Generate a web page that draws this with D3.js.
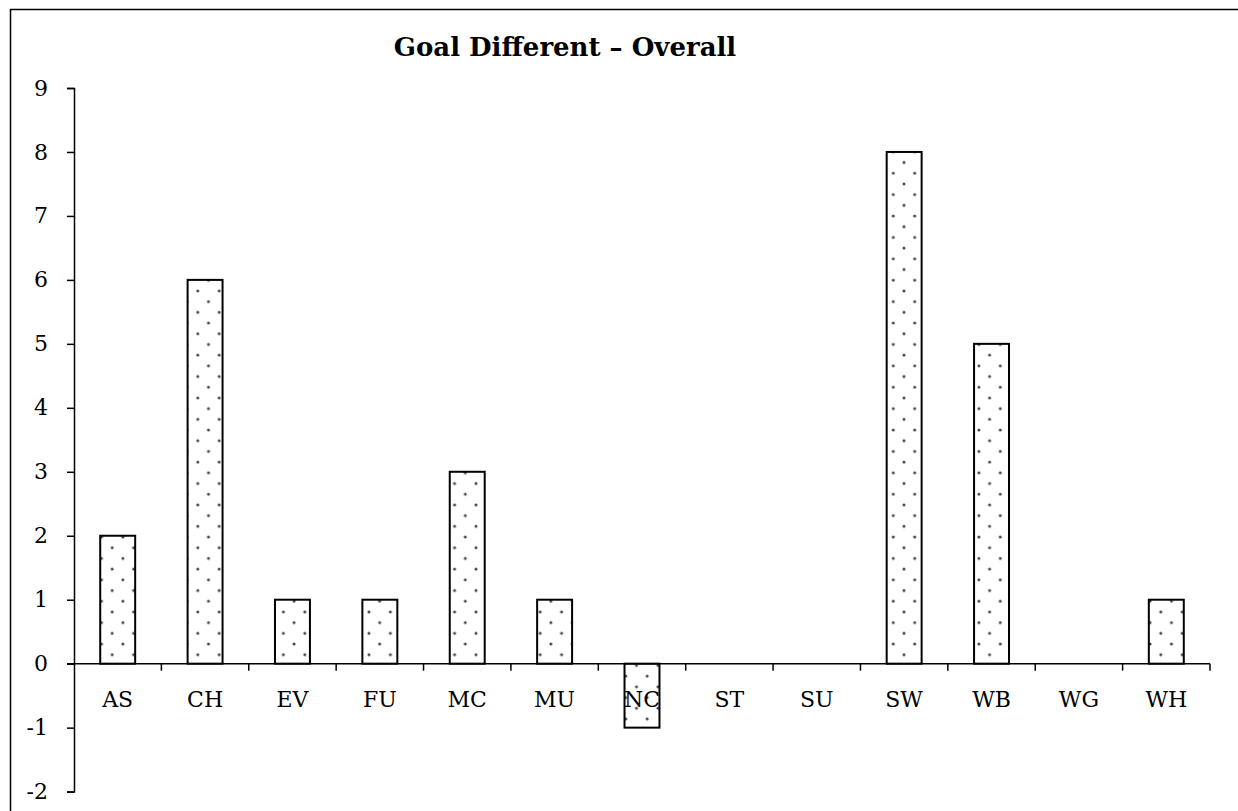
<!DOCTYPE html>
<html>
<head>
<meta charset="utf-8">
<script src="https://cdn.jsdelivr.net/npm/d3@7"></script>
<style>
  body { margin: 0; background: #fff; }
  svg { display: block; }
  text { font-family: "DejaVu Serif", "Liberation Serif", serif; fill: #000; }
</style>
</head>
<body>
<div id="chart"></div>
<script>
// data
const teams = ["AS", "CH", "EV", "FU", "MC", "MU", "NC", "ST", "SU", "SW", "WB", "WG", "WH"];
const goalDiff = [2, 6, 1, 1, 3, 1, -1, 0, 0, 8, 5, 0, 1];
const yTicks = [-2, -1, 0, 1, 2, 3, 4, 5, 6, 7, 8, 9];
const title = "Goal Different \u2013 Overall";

const width = 1238, height = 811;
const margin = { top: 88, right: 28, bottom: 20, left: 74 };

const svg = d3.select("#chart")
  .append("svg")
  .attr("width", width)
  .attr("height", height);

// outer frame (runs off right and bottom edges)
svg.append("rect")
  .attr("x", 10.5)
  .attr("y", 9.5)
  .attr("width", width)
  .attr("height", height)
  .attr("fill", "none")
  .attr("stroke", "#000")
  .attr("stroke-width", 1.5);

// dotted fill
const pat = svg.append("defs").append("pattern")
  .attr("id", "dots")
  .attr("patternUnits", "userSpaceOnUse")
  .attr("width", 21.4)
  .attr("height", 21.4)
  .attr("x", 101.5)
  .attr("y", 2);
pat.append("rect").attr("width", 21.4).attr("height", 21.4).attr("fill", "#fff");
[[0, 0], [10.7, 10.7], [21.4, 0], [0, 21.4], [21.4, 21.4]].forEach(p => {
  pat.append("circle")
    .attr("cx", p[0]).attr("cy", p[1]).attr("r", 1.5)
    .attr("fill", "#444");
});

const x = d3.scaleBand()
  .domain(teams)
  .range([margin.left, width - margin.right])
  .paddingInner(0.6)
  .paddingOuter(0.3);

const y = d3.scaleLinear()
  .domain([-2, 9])
  .range([791.6, margin.top]);

// bars
svg.append("g")
  .selectAll("rect")
  .data(teams.map((t, i) => ({ team: t, value: goalDiff[i] })).filter(d => d.value !== 0))
  .enter()
  .append("rect")
  .attr("x", d => x(d.team))
  .attr("y", d => y(Math.max(0, d.value)))
  .attr("width", x.bandwidth())
  .attr("height", d => Math.abs(y(d.value) - y(0)))
  .attr("fill", "url(#dots)")
  .attr("stroke", "#000")
  .attr("stroke-width", 2);

// y axis
const yAxis = svg.append("g")
  .attr("transform", `translate(${margin.left},0)`)
  .call(d3.axisLeft(y).tickValues(yTicks).tickSize(7).tickPadding(19).tickFormat(d => String(d)));
yAxis.select(".domain").attr("stroke-width", 1.5);
yAxis.selectAll(".tick line").attr("stroke-width", 1.5);
yAxis.selectAll("text")
  .attr("font-size", 22)
  .attr("font-family", "DejaVu Serif, serif")
  .attr("fill", "#000");

// x axis along zero, ticks between categories
const step = x.step();
const bounds = d3.range(teams.length + 1).map(i => margin.left + i * step);
const xAxis = svg.append("g");
xAxis.append("line")
  .attr("x1", margin.left - 7)
  .attr("x2", width - margin.right)
  .attr("y1", y(0))
  .attr("y2", y(0))
  .attr("stroke", "#000")
  .attr("stroke-width", 1.5);
xAxis.selectAll(".sep")
  .data(bounds.slice(1))
  .enter()
  .append("line")
  .attr("class", "sep")
  .attr("x1", d => d)
  .attr("x2", d => d)
  .attr("y1", y(0))
  .attr("y2", y(0) + 7)
  .attr("stroke", "#000")
  .attr("stroke-width", 1.5);
xAxis.selectAll(".lbl")
  .data(teams)
  .enter()
  .append("text")
  .attr("class", "lbl")
  .attr("x", d => x(d) + x.bandwidth() / 2)
  .attr("y", y(0) + 43)
  .attr("text-anchor", "middle")
  .attr("font-size", 22)
  .text(d => d);

// title
svg.append("text")
  .attr("x", 565)
  .attr("y", 56)
  .attr("text-anchor", "middle")
  .attr("font-size", 26)
  .attr("font-weight", "bold")
  .text(title);
</script>
</body>
</html>
